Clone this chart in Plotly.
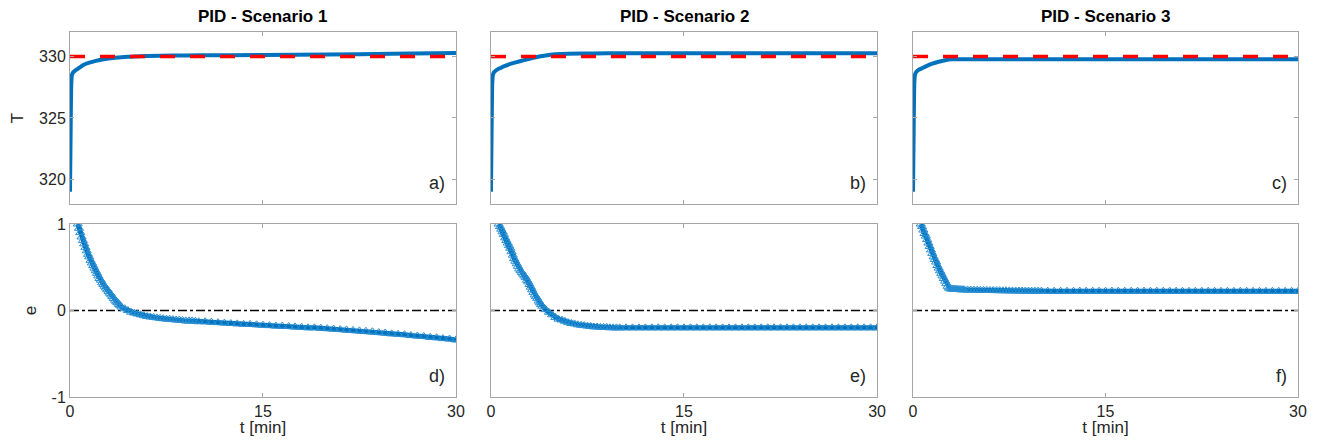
import plotly.graph_objects as go

# time grid for the temperature curves (min)
t_T = [0, 0.05, 0.1, 0.15, 0.25, 0.4, 0.6, 0.8, 1.0, 1.5, 2.0, 2.5, 3.0, 3.5,
       4.0, 4.5, 5.0, 6, 8, 10, 15, 20, 25, 30]

T1 = [319.0, 324.0, 327.8, 328.5, 328.72, 328.85, 329.0, 329.15, 329.3, 329.5,
      329.65, 329.76, 329.84, 329.9, 329.95, 329.98, 330.0, 330.04, 330.08,
      330.1, 330.13, 330.17, 330.22, 330.3]
T2 = [319.0, 324.0, 327.8, 328.5, 328.75, 328.88, 329.0, 329.1, 329.2, 329.4,
      329.55, 329.69, 329.82, 329.94, 330.04, 330.12, 330.18, 330.23, 330.26,
      330.27, 330.27, 330.27, 330.27, 330.27]
T3 = [319.0, 324.0, 327.8, 328.5, 328.75, 328.9, 329.0, 329.1, 329.2, 329.42,
      329.58, 329.7, 329.78, 329.79, 329.79, 329.79, 329.79, 329.79, 329.79,
      329.79, 329.79, 329.79, 329.79, 329.79]
T_set = 330

# time grid for the error markers (min)
t_e = [0.6, 0.7, 0.8, 0.9, 1.0, 1.1, 1.2, 1.3, 1.4, 1.5, 1.6, 1.7, 1.8, 1.9,
       2.0, 2.1, 2.2, 2.3, 2.4, 2.5, 2.6, 2.7, 2.8, 2.9, 3.0, 3.1, 3.2, 3.3,
       3.4, 3.5, 3.6, 3.7, 3.8, 3.9, 4.0,
       4.25, 4.5, 4.75, 5.0, 5.25, 5.5, 5.75, 6.0, 6.25, 6.5, 6.75, 7.0, 7.25,
       7.5, 7.75, 8.0, 8.25, 8.5, 8.75, 9.0, 9.25, 9.5, 9.75, 10.0,
       10.5, 11, 11.5, 12, 12.5, 13, 13.5, 14, 14.5, 15, 15.5, 16, 16.5, 17,
       17.5, 18, 18.5, 19, 19.5, 20, 20.5, 21, 21.5, 22, 22.5, 23, 23.5, 24,
       24.5, 25, 25.5, 26, 26.5, 27, 27.5, 28, 28.5, 29, 29.5, 30]

e1 = [1.00, 0.95, 0.90, 0.85, 0.81, 0.77, 0.73, 0.69, 0.65, 0.62, 0.58, 0.55,
      0.52, 0.49, 0.46, 0.43, 0.40, 0.37, 0.35, 0.32, 0.30, 0.28, 0.26, 0.24,
      0.22, 0.20, 0.18, 0.16, 0.14, 0.12, 0.10, 0.09, 0.07, 0.06, 0.04,
      0.02, 0.00, -0.02, -0.03, -0.04, -0.05, -0.06, -0.07, -0.075, -0.08,
      -0.085, -0.09, -0.095, -0.10, -0.10, -0.105, -0.11, -0.11, -0.115,
      -0.12, -0.12, -0.12, -0.125, -0.13,
      -0.13, -0.135, -0.14, -0.145, -0.15, -0.155, -0.16, -0.16, -0.165,
      -0.17, -0.175, -0.18, -0.18, -0.185, -0.19, -0.195, -0.2, -0.2, -0.205,
      -0.21, -0.215, -0.22, -0.225, -0.23, -0.235, -0.24, -0.245, -0.255,
      -0.26, -0.27, -0.275, -0.28, -0.29, -0.295, -0.30, -0.31, -0.315,
      -0.325, -0.33, -0.34]
e2 = [1.00, 0.97, 0.94, 0.91, 0.88, 0.84, 0.81, 0.78, 0.75, 0.72, 0.68, 0.64,
      0.60, 0.57, 0.54, 0.51, 0.48, 0.46, 0.44, 0.42, 0.40, 0.38, 0.35, 0.33,
      0.30, 0.27, 0.24, 0.21, 0.18, 0.16, 0.14, 0.11, 0.09, 0.07, 0.05,
      0.01, -0.02, -0.05, -0.08, -0.10, -0.11, -0.125, -0.14, -0.15, -0.155,
      -0.165, -0.17, -0.175, -0.18, -0.185, -0.19, -0.19, -0.195, -0.195,
      -0.195, -0.2, -0.2, -0.2, -0.2,
      -0.2, -0.2, -0.2, -0.2, -0.2, -0.2, -0.2, -0.2, -0.2, -0.2, -0.2, -0.2,
      -0.2, -0.2, -0.2, -0.2, -0.2, -0.2, -0.2, -0.2, -0.2, -0.2, -0.2, -0.2,
      -0.2, -0.2, -0.2, -0.2, -0.2, -0.2, -0.2, -0.2, -0.2, -0.2, -0.2, -0.2,
      -0.2, -0.2, -0.2, -0.2]
e3 = [1.00, 0.97, 0.93, 0.89, 0.86, 0.82, 0.78, 0.74, 0.70, 0.66, 0.62, 0.59,
      0.56, 0.52, 0.49, 0.46, 0.43, 0.40, 0.37, 0.34, 0.31, 0.28, 0.26, 0.25,
      0.25, 0.248, 0.246, 0.245, 0.244, 0.243, 0.242, 0.241, 0.24, 0.24, 0.239,
      0.238, 0.237, 0.236, 0.235, 0.234, 0.233, 0.232, 0.231, 0.23, 0.23,
      0.229, 0.228, 0.228, 0.227, 0.227, 0.226, 0.226, 0.225, 0.225, 0.225,
      0.224, 0.224, 0.224, 0.224,
      0.223, 0.223, 0.223, 0.223, 0.223, 0.223, 0.223, 0.223, 0.223, 0.223,
      0.223, 0.223, 0.223, 0.223, 0.223, 0.223, 0.223, 0.223, 0.223, 0.223,
      0.222, 0.222, 0.222, 0.222, 0.222, 0.222, 0.222, 0.222, 0.222, 0.222,
      0.222, 0.222, 0.222, 0.222, 0.222, 0.222, 0.222, 0.222, 0.222, 0.222]

titles = ["PID - Scenario 1", "PID - Scenario 2", "PID - Scenario 3"]
top_tags = ["a)", "b)", "c)"]
bot_tags = ["d)", "e)", "f)"]
T_all = [T1, T2, T3]
e_all = [e1, e2, e3]

BLUE = "#0072BD"
MARK = "#2a8fd4"
FRAME = "#a6a6a6"
TXT = "#262626"
FONT = "Liberation Sans"

xdom = [[0.0, 0.3143], [0.3428, 0.6572], [0.6865, 1.0]]
ydom_top = [0.5288, 1.0]
ydom_bot = [0.0, 0.474]

fig = go.Figure()
layout = {}

for i in range(3):
    nt = 2 * i + 1   # top axis index
    nb = 2 * i + 2   # bottom axis index
    xt, yt = ("x" if nt == 1 else "x%d" % nt), ("y" if nt == 1 else "y%d" % nt)
    xb, yb = "x%d" % nb, "y%d" % nb

    fig.add_trace(go.Scatter(x=t_T, y=T_all[i], mode="lines",
                             line=dict(color=BLUE, width=4, shape="spline",
                                       smoothing=0.6),
                             xaxis=xt, yaxis=yt, showlegend=False))
    fig.add_trace(go.Scatter(x=[0, 30], y=[T_set, T_set], mode="lines",
                             line=dict(color="#ff0000", width=3.5, dash="15px,15px"),
                             xaxis=xt, yaxis=yt, showlegend=False))

    fig.add_trace(go.Scatter(x=[0, 30], y=[0, 0], mode="lines",
                             line=dict(color="black", width=1.5, dash="dashdot"),
                             xaxis=xb, yaxis=yb, showlegend=False))
    # dense band of overlapping markers in the original
    fig.add_trace(go.Scatter(x=t_e, y=e_all[i], mode="lines",
                             line=dict(color=BLUE, width=5),
                             xaxis=xb, yaxis=yb, showlegend=False))
    fig.add_trace(go.Scatter(x=t_e, y=e_all[i], mode="markers",
                             marker=dict(symbol="triangle-up-open", size=8,
                                         color=MARK, line=dict(width=1)),
                             xaxis=xb, yaxis=yb, showlegend=False))

    common_x = dict(range=[0, 30], tickvals=[0, 15, 30], ticks="inside",
                    ticklen=4, tickcolor=FRAME, showline=True, linecolor=FRAME,
                    linewidth=1, mirror="allticks", showgrid=False,
                    zeroline=False, domain=xdom[i], automargin=False,
                    tickfont=dict(family=FONT, size=16, color=TXT))
    common_y = dict(ticks="inside", ticklen=4, tickcolor=FRAME, showline=True,
                    linecolor=FRAME, linewidth=1, mirror="allticks",
                    showgrid=False, zeroline=False, automargin=False,
                    tickfont=dict(family=FONT, size=16, color=TXT))

    layout["xaxis" if nt == 1 else "xaxis%d" % nt] = dict(
        common_x, anchor=yt, showticklabels=False)
    layout["yaxis" if nt == 1 else "yaxis%d" % nt] = dict(
        common_y, anchor=xt, domain=ydom_top, range=[318, 332],
        tickvals=[320, 325, 330], showticklabels=(i == 0),
        title=dict(text="T" if i == 0 else "", standoff=13,
                   font=dict(family=FONT, size=17, color=TXT)))
    layout["xaxis%d" % nb] = dict(
        common_x, anchor=yb, showticklabels=True,
        title=dict(text="t [min]", standoff=2,
                   font=dict(family=FONT, size=17, color=TXT)))
    layout["yaxis%d" % nb] = dict(
        common_y, anchor=xb, domain=ydom_bot, range=[-1, 1],
        tickvals=[-1, 0, 1], ticktext=["-1", "0", "1"],
        showticklabels=(i == 0),
        title=dict(text="e" if i == 0 else "", standoff=10,
                   font=dict(family=FONT, size=17, color=TXT)))

annotations = []
for i in range(3):
    xc = (xdom[i][0] + xdom[i][1]) / 2
    annotations.append(dict(text="<b>" + titles[i] + "</b>", x=xc, y=1.01,
                            xref="paper", yref="paper", xanchor="center",
                            yanchor="bottom", showarrow=False,
                            font=dict(family=FONT, size=17, color="black")))
    annotations.append(dict(text=top_tags[i], x=xdom[i][1] - 0.007,
                            y=ydom_top[0] + 0.025, xref="paper", yref="paper",
                            xanchor="right", yanchor="bottom", showarrow=False,
                            font=dict(family=FONT, size=18, color=TXT)))
    annotations.append(dict(text=bot_tags[i], x=xdom[i][1] - 0.007,
                            y=ydom_bot[0] + 0.025, xref="paper", yref="paper",
                            xanchor="right", yanchor="bottom", showarrow=False,
                            font=dict(family=FONT, size=18, color=TXT)))

fig.update_layout(**layout)
# page body adds an 8px margin, so the figure is 16px smaller than the window
fig.update_layout(width=1304, height=429, annotations=annotations,
                  margin=dict(l=62, r=14, t=24, b=40, autoexpand=False),
                  plot_bgcolor="white", paper_bgcolor="white",
                  font=dict(family=FONT, color=TXT))

fig.write_html("out.html")
